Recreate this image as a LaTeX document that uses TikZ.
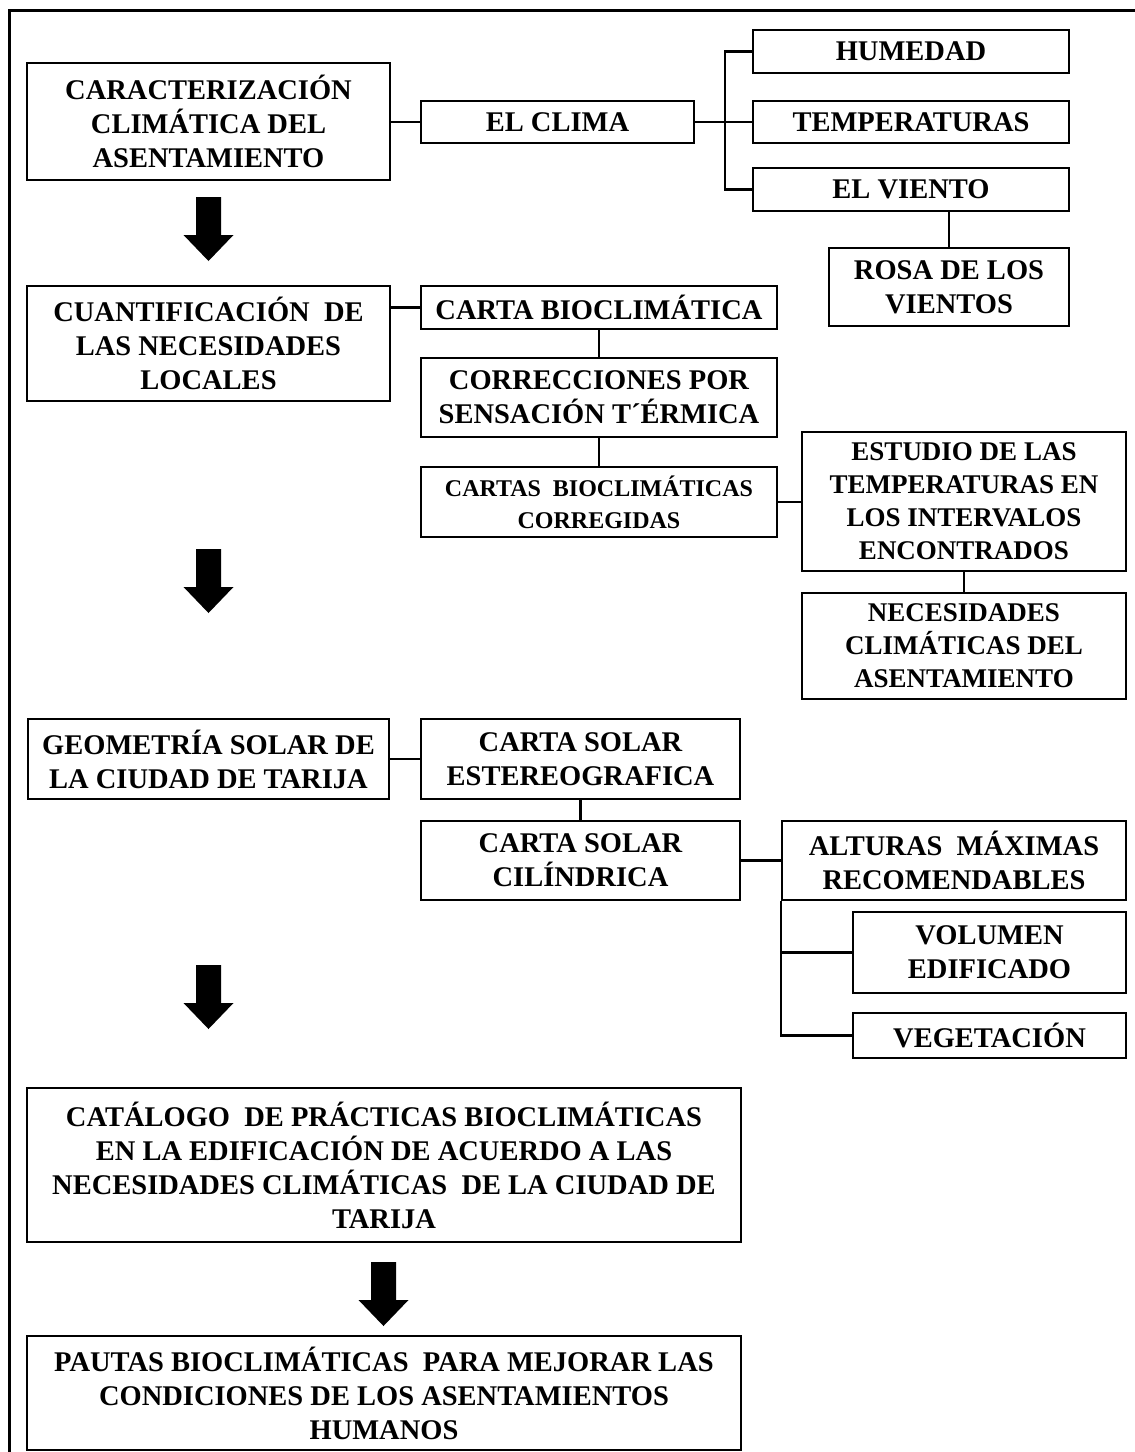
\documentclass[tikz,border=0pt]{standalone}
\usepackage{fontspec}
\setmainfont{Liberation Serif}
\begin{document}
\begin{tikzpicture}[x=1pt,y=-1pt,
  box/.style={draw, line width=2.5pt, align=center, inner sep=0pt, font=\bfseries\fontsize{28.5}{34}\selectfont},
  conn/.style={line width=2.3pt},
  bigdown/.pic={\fill (-12.5,0) -- (12.5,0) -- (12.5,38) -- (25,38) -- (0,64) -- (-25,38) -- (-12.5,38) -- cycle;}]
\useasboundingbox (0,0) rectangle (1135,1452);
\draw[line width=3pt] (9,1452) -- (9,10) -- (1135,10);

% nodes
\node[box, minimum width=363pt, minimum height=117pt] (A) at (208.5,121.5) {CARACTERIZACIÓN\\CLIMÁTICA DEL\\ASENTAMIENTO};
\node[box, minimum width=273pt, minimum height=42pt] (clima) at (557.5,122) {EL CLIMA};
\node[box, minimum width=316pt, minimum height=43pt] (hum) at (911,51.5) {HUMEDAD};
\node[box, minimum width=316pt, minimum height=42pt] (temp) at (911,122) {TEMPERATURAS};
\node[box, minimum width=316pt, minimum height=43pt] (viento) at (911,189.5) {EL VIENTO};
\node[box, minimum width=240pt, minimum height=78pt] (rosa) at (949,287) {ROSA DE LOS\\VIENTOS};

\node[box, minimum width=363pt, minimum height=115pt] (cuant) at (208.5,343.5) {CUANTIFICACIÓN~ DE\\LAS NECESIDADES\\LOCALES};
\node[box, minimum width=356pt, minimum height=43pt] (cbio) at (599,307.5) {CARTA BIOCLIMÁTICA};
\node[box, minimum width=356pt, minimum height=79pt] (corr) at (599,397.5) {CORRECCIONES POR\\SENSACIÓN T´ÉRMICA};
\node[box, minimum width=356pt, minimum height=70pt, font=\bfseries\fontsize{24}{32}\selectfont] (cartas) at (599,502) {CARTAS~ BIOCLIMÁTICAS\\CORREGIDAS};
\node[box, minimum width=324pt, minimum height=139pt, font=\bfseries\fontsize{27}{33}\selectfont] (estudio) at (964,501.5) {ESTUDIO DE LAS\\TEMPERATURAS EN\\LOS INTERVALOS\\ENCONTRADOS};
\node[box, minimum width=324pt, minimum height=106pt, font=\bfseries\fontsize{27}{33}\selectfont] (neces) at (964,646) {NECESIDADES\\CLIMÁTICAS DEL\\ASENTAMIENTO};

\node[box, minimum width=361pt, minimum height=80pt] (geom) at (208.5,759) {GEOMETRÍA SOLAR DE\\LA CIUDAD DE TARIJA};
\node[box, minimum width=319pt, minimum height=80pt] (cse) at (580.5,759) {CARTA SOLAR\\ESTEREOGRAFICA};
\node[box, minimum width=319pt, minimum height=79pt] (csc) at (580.5,860.5) {CARTA SOLAR\\CILÍNDRICA};
\node[box, minimum width=344pt, minimum height=79pt] (alt) at (954,860.5) {ALTURAS~ MÁXIMAS\\RECOMENDABLES};
\node[box, minimum width=273pt, minimum height=81pt] (vol) at (989.5,952.5) {VOLUMEN\\EDIFICADO};
\node[box, minimum width=273pt, minimum height=45pt] (veg) at (989.5,1035.5) {VEGETACIÓN};

\node[box, minimum width=714pt, minimum height=154pt] (cat) at (384,1165) {CATÁLOGO~ DE PRÁCTICAS BIOCLIMÁTICAS\\EN LA EDIFICACIÓN DE ACUERDO A LAS\\NECESIDADES CLIMÁTICAS~ DE LA CIUDAD DE\\TARIJA};
\node[box, minimum width=714pt, minimum height=114pt] (pautas) at (384,1393) {PAUTAS BIOCLIMÁTICAS~ PARA MEJORAR LAS\\CONDICIONES DE LOS ASENTAMIENTOS\\HUMANOS};

% connectors
\coordinate (bus) at (725,0);
\draw[conn] (A.east |- clima.west) -- (clima.west);
\draw[conn] (clima.east) -- (temp.west);
\draw[conn] (hum.west) -- (hum.west -| bus) -- (viento.west -| bus) -- (viento.west);
\draw[conn] (viento.south -| rosa.north) -- (rosa.north);
\draw[conn] (cuant.east |- cbio.west) -- (cbio.west);
\draw[conn] (cbio.south) -- (corr.north);
\draw[conn] (corr.south) -- (cartas.north);
\draw[conn] (cartas.east) -- (cartas.east -| estudio.west);
\draw[conn] (estudio.south) -- (neces.north);
\draw[conn] (geom.east |- cse.west) -- (cse.west);
\draw[conn] (cse.south) -- (csc.north);
\draw[conn] (csc.east) -- (alt.west);
\draw[conn] (alt.south west) -- (alt.south west |- veg.west) -- (veg.west);
\draw[conn] (alt.south west |- vol.west) -- (vol.west);

% big arrows
\pic at (208.5,197) {bigdown};
\pic at (208.5,549) {bigdown};
\pic at (208.5,965) {bigdown};
\pic at (383.5,1262) {bigdown};
\end{tikzpicture}
\end{document}
